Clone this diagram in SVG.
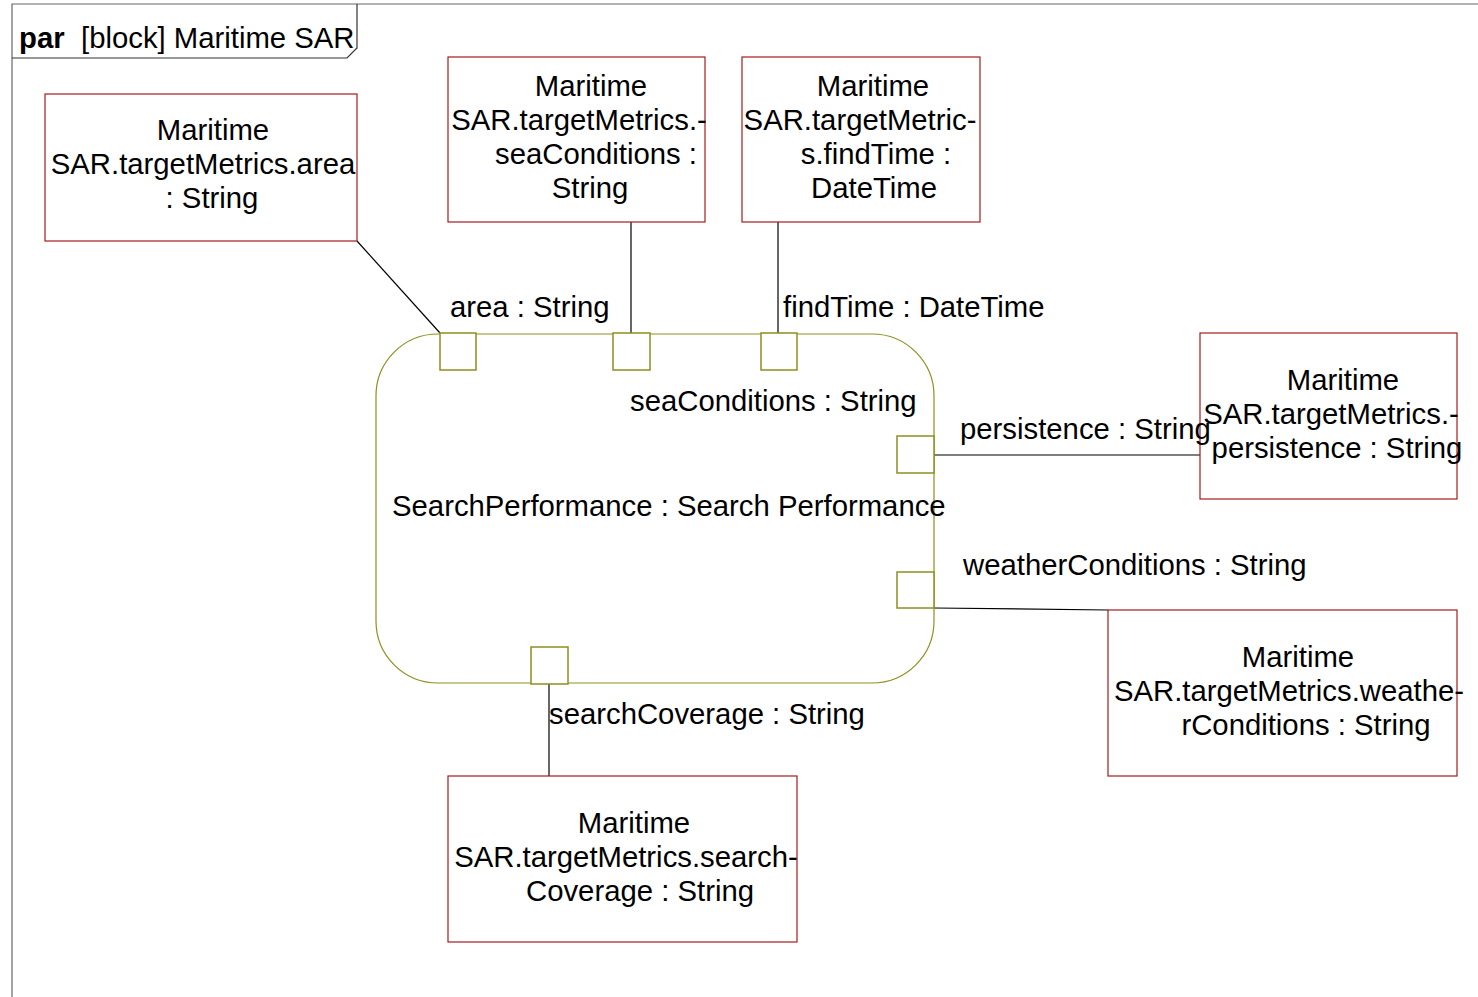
<svg xmlns="http://www.w3.org/2000/svg" width="1478" height="997" viewBox="0 0 1478 997">
<style>
text{font-family:"Liberation Sans",Arial,sans-serif;font-size:29.3px;fill:#000}
.m{text-anchor:middle}
.box{fill:#fff;stroke:#a31c1c;stroke-width:1.2}
.port{fill:#fff;stroke:#8f8f1f;stroke-width:1.5}
.blk{fill:#fff;stroke:#8f8f1f;stroke-width:1.2}
.c{stroke:#000;stroke-width:1.2;fill:none}
</style>
<rect width="1478" height="997" fill="#fff"/>
<g id="frame">
<path d="M12,997 V4 H1478" fill="none" stroke="#666" stroke-width="1.2"/>
<path d="M12,58 H347 L357,48 V4" fill="none" stroke="#333" stroke-width="1.2"/>
<text x="19" y="48"><tspan font-weight="bold">par</tspan><tspan x="81">[block] Maritime SAR</tspan></text>
</g>
<g id="connectors">
<line class="c" x1="357" y1="241" x2="440" y2="333"/>
<line class="c" x1="631" y1="222" x2="631" y2="333"/>
<line class="c" x1="778" y1="222" x2="778" y2="333"/>
<line class="c" x1="934" y1="455" x2="1200" y2="455"/>
<line class="c" x1="934" y1="608" x2="1108" y2="610"/>
<line class="c" x1="549" y1="684" x2="549" y2="776"/>
</g>
<g id="SearchPerformance">
<rect class="blk" x="376" y="334" width="558" height="349" rx="62" ry="62"/>
<text x="392" y="516">SearchPerformance : Search Performance</text>
</g>
<g id="node-area">
<rect class="box" x="45" y="94" width="312" height="147"/>
<text class="m" x="213" y="140">Maritime</text>
<text class="m" x="203" y="174">SAR.targetMetrics.area</text>
<text class="m" x="212" y="208">: String</text>
</g>
<g id="node-seaConditions">
<rect class="box" x="448" y="57" width="257" height="165"/>
<text class="m" x="591" y="96">Maritime</text>
<text class="m" x="579" y="130">SAR.targetMetrics.-</text>
<text class="m" x="596" y="164">seaConditions :</text>
<text class="m" x="590" y="198">String</text>
</g>
<g id="node-findTime">
<rect class="box" x="742" y="57" width="238" height="165"/>
<text class="m" x="873" y="96">Maritime</text>
<text class="m" x="860" y="130">SAR.targetMetric-</text>
<text class="m" x="876" y="164">s.findTime :</text>
<text class="m" x="874" y="198">DateTime</text>
</g>
<g id="node-persistence">
<rect class="box" x="1200" y="333" width="257" height="166"/>
<text class="m" x="1343" y="390">Maritime</text>
<text class="m" x="1331" y="424">SAR.targetMetrics.-</text>
<text class="m" x="1337" y="458">persistence : String</text>
</g>
<g id="node-weatherConditions">
<rect class="box" x="1108" y="610" width="349" height="166"/>
<text class="m" x="1298" y="667">Maritime</text>
<text class="m" x="1289" y="701">SAR.targetMetrics.weathe-</text>
<text class="m" x="1306" y="735">rConditions : String</text>
</g>
<g id="node-searchCoverage">
<rect class="box" x="448" y="776" width="349" height="166"/>
<text class="m" x="634" y="833">Maritime</text>
<text class="m" x="626" y="867">SAR.targetMetrics.search-</text>
<text class="m" x="640" y="901">Coverage : String</text>
</g>
<g id="port-area">
<rect class="port" x="440" y="333" width="36" height="37"/>
<text x="450" y="317">area : String</text>
</g>
<g id="port-seaConditions">
<rect class="port" x="613" y="333" width="37" height="37"/>
<text x="630" y="411">seaConditions : String</text>
</g>
<g id="port-findTime">
<rect class="port" x="761" y="333" width="36" height="37"/>
<text x="783" y="317">findTime : DateTime</text>
</g>
<g id="port-persistence">
<rect class="port" x="897" y="436" width="37" height="37"/>
<text x="960" y="439">persistence : String</text>
</g>
<g id="port-weatherConditions">
<rect class="port" x="897" y="572" width="37" height="36"/>
<text x="963" y="575">weatherConditions : String</text>
</g>
<g id="port-searchCoverage">
<rect class="port" x="531" y="647" width="37" height="37"/>
<text x="549" y="724">searchCoverage : String</text>
</g>
</svg>
